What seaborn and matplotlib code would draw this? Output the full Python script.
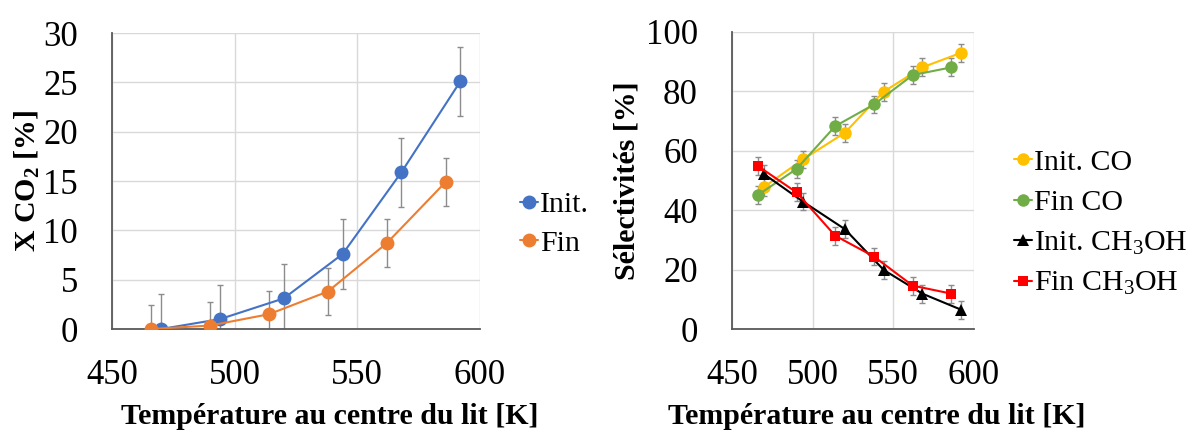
import numpy as np
import pandas as pd
import matplotlib
matplotlib.use("Agg")
import matplotlib.pyplot as plt
import seaborn as sns
from matplotlib.ticker import MultipleLocator

# ---------------- data ----------------
T_init = [470, 494, 520, 544, 568, 592]
T_fin = [466, 490, 514, 538, 562, 586]

X_init = [0.0, 1.0, 3.1, 7.6, 15.9, 25.1]
X_fin = [0.0, 0.35, 1.5, 3.8, 8.7, 14.9]
X_init_err = [3.5, 3.5, 3.5, 3.5, 3.5, 3.5]
X_fin_err = [2.4, 2.4, 2.4, 2.4, 2.4, 2.4]

S_init_CO = [47.9, 57.1, 66.1, 79.9, 88.1, 93.0]
S_fin_CO = [45.1, 53.9, 68.3, 75.6, 85.5, 88.1]
S_init_MeOH = [52.1, 42.9, 33.6, 19.9, 11.9, 6.5]
S_fin_MeOH = [54.9, 46.0, 31.4, 24.4, 14.6, 11.9]
S_err = [3.0, 3.0, 3.0, 3.0, 3.0, 3.0]

x_ticks = [450, 500, 550, 600]
y1_ticks = [0, 5, 10, 15, 20, 25, 30]
y2_ticks = [0, 20, 40, 60, 80, 100]

xlabel = "Température au centre du lit [K]"
y1label = "X CO$_2$ [%]"
y2label = "Sélectivités [%]"

# ---------------- style ----------------
sns.set_theme(style="white")
plt.rcParams["font.family"] = ["Liberation Serif", "DejaVu Serif"]
plt.rcParams["mathtext.fontset"] = "custom"
plt.rcParams["mathtext.rm"] = "Liberation Serif"
plt.rcParams["mathtext.bf"] = "Liberation Serif:bold"
plt.rcParams["mathtext.default"] = "regular"
plt.rcParams["text.color"] = "black"
plt.rcParams["axes.labelcolor"] = "black"

GRID = "#d9d9d9"
SPINE = "#595959"
ERR = "#8c8c8c"

TICK_FS = 25
LABEL_FS = 21.5
LEG_FS = 21.5

fig = plt.figure(figsize=(11.94, 4.30), dpi=100)
W, H = 1194, 430
ax1 = fig.add_axes([112 / W, 1 - 329 / H, 368 / W, 296 / H])
ax2 = fig.add_axes([732 / W, 1 - 329 / H, 242 / W, 297 / H])


def style_axes(ax, yticks, ymax, ylab, xlab_x, ylab_xpx, left_px, height_px):
    ax.set_xlim(450, 600)
    ax.set_ylim(0, ymax)
    ax.set_xticks(x_ticks)
    ax.xaxis.set_minor_locator(MultipleLocator(10))
    ax.set_yticks(yticks)
    ax.grid(True, which="major", color=GRID, linewidth=1.0)
    ax.set_axisbelow(True)
    for s in ["top", "right"]:
        ax.spines[s].set_visible(False)
    for s in ["left", "bottom"]:
        ax.spines[s].set_color(SPINE)
        ax.spines[s].set_linewidth(1.3)
    ax.tick_params(axis="both", which="both", direction="out", color=SPINE,
                   width=1.1, length=7.5, labelsize=TICK_FS,
                   labelcolor="black")
    ax.tick_params(axis="x", which="both", pad=14)
    ax.tick_params(axis="y", which="both", pad=17)
    ax.tick_params(axis="y", which="minor", length=0)
    ax.set_xlabel(xlabel, fontsize=LABEL_FS, fontweight="bold", color="black")
    ax.set_ylabel(ylab, fontsize=LABEL_FS, fontweight="bold", color="black")
    ax.xaxis.set_label_coords(xlab_x, (329 - 403) / height_px)
    ax.yaxis.label.set_verticalalignment("center")
    ax.yaxis.set_label_coords((ylab_xpx - left_px) / (W * ax.get_position().width), 0.5)


def series(ax, T, v, err, color, marker, ms, label):
    ax.errorbar(T, v, yerr=err, fmt="none", ecolor=ERR, elinewidth=1.0,
                capsize=2.2, capthick=1.0, zorder=2)
    sns.lineplot(x=T, y=v, ax=ax, color=color, marker=marker, markersize=ms,
                 markeredgewidth=0, linewidth=1.5, label=label, sort=False,
                 zorder=3)


# left chart
series(ax1, T_init, X_init, X_init_err, "#4472C4", "o", 10, "Init.")
series(ax1, T_fin, X_fin, X_fin_err, "#ED7D31", "o", 10, "Fin")
style_axes(ax1, y1_ticks, 30, y1label, 0.592, 27, 112, 296)
leg1 = ax1.legend(loc="center left", bbox_to_anchor=(520 / W, 1 - 224 / H),
                  bbox_transform=fig.transFigure, frameon=False,
                  fontsize=LEG_FS, handlelength=0.6, handletextpad=0.08,
                  borderpad=0, borderaxespad=0, labelspacing=0.4)

# right chart
series(ax2, T_init, S_init_CO, S_err, "#FFC000", "o", 9, "Init. CO")
series(ax2, T_fin, S_fin_CO, S_err, "#70AD47", "o", 9, "Fin CO")
series(ax2, T_init, S_init_MeOH, S_err, "black", "^", 8.5, "Init. CH$_3$OH")
series(ax2, T_fin, S_fin_MeOH, S_err, "#FF0000", "s", 7.5, "Fin CH$_3$OH")
style_axes(ax2, y2_ticks, 100, y2label, 0.599, 627, 732, 297)
leg2 = ax2.legend(loc="center left", bbox_to_anchor=(1014 / W, 1 - 223 / H),
                  bbox_transform=fig.transFigure, frameon=False,
                  fontsize=LEG_FS, handlelength=0.6, handletextpad=0.08,
                  borderpad=0, borderaxespad=0, labelspacing=0.45)
for leg in (leg1, leg2):
    for t in leg.get_texts():
        t.set_color("black")

fig.savefig("out.png", dpi=100)
